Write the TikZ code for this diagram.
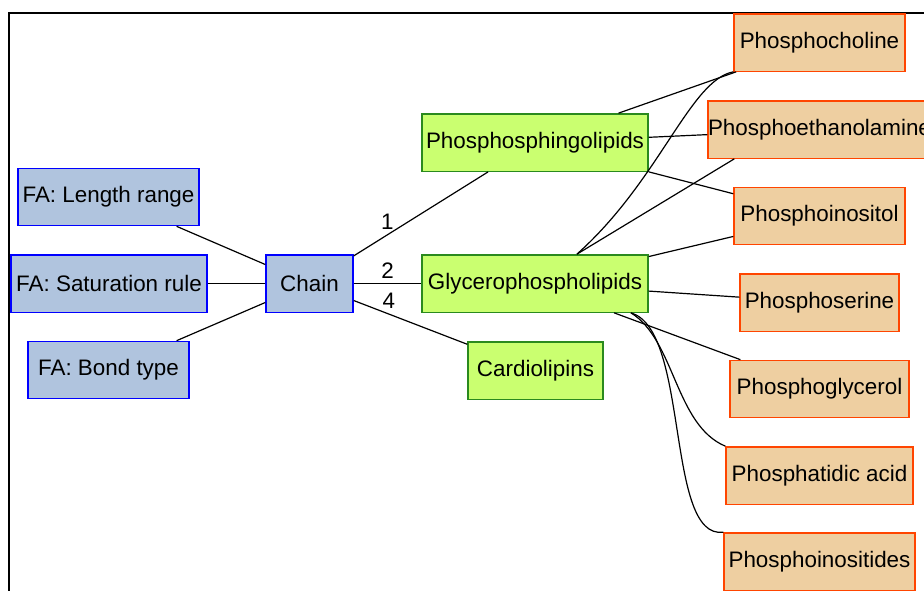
\documentclass[tikz,border=0pt]{standalone}
\usepackage{fontspec}
\setmainfont{Liberation Sans}
\usepackage{xcolor}
\definecolor{chainfill}{HTML}{B0C4DE}
\definecolor{classfill}{HTML}{CAFF70}
\definecolor{classdraw}{HTML}{2A8A1E}
\definecolor{headfill}{HTML}{EECFA1}
\definecolor{headdraw}{HTML}{FF4500}

\tikzset{
  lipidbox/.style={rectangle,line width=1pt,minimum height=43pt,inner xsep=1pt,
    font=\fontsize{16.8}{19}\selectfont},
  chainbox/.style={lipidbox,fill=chainfill,draw=blue},
  classbox/.style={lipidbox,fill=classfill,draw=classdraw},
  headbox/.style={lipidbox,fill=headfill,draw=headdraw},
  link/.style={line width=0.9pt},
  linklabel/.style={above=2pt,inner sep=1.5pt,font=\fontsize{16.8}{19}\selectfont}
}

\begin{document}
\begin{tikzpicture}[x=0.75pt,y=-0.75pt]
    \useasboundingbox (0,0) rectangle (924,590);
    \clip (0,0) rectangle (924,590);
    \draw [line width=1.5pt] (9,12.5) rectangle (1200,800);

    \node [chainbox,minimum width=135.75pt] (lenrange) at (108.5,197) {FA: Length range};
    \node [chainbox,minimum width=147pt] (satrule) at (109,283.5) {FA: Saturation rule};
    \node [chainbox,minimum width=120.75pt] (bondtype) at (108.5,370) {FA: Bond type};
    \node [chainbox,minimum width=65.25pt] (chain) at (309.5,283.5) {Chain};

    \node [classbox,minimum width=169.5pt] (sphingo) at (535,142.5) {Phosphosphingolipids};
    \node [classbox,minimum width=169.5pt] (glycero) at (535,283.5) {Glycerophospholipids};
    \node [classbox,minimum width=101.25pt] (cardio) at (535.5,370.5) {Cardiolipins};

    \node [headbox,minimum width=128.25pt] (choline) at (819.5,42.5) {Phosphocholine};
    \node [headbox,minimum width=167.25pt,inner xsep=0pt] (ethanol) at (819.5,129.5) {Phosphoethanolamine};
    \node [headbox,minimum width=128.25pt] (inositol) at (819.5,216) {Phosphoinositol};
    \node [headbox,minimum width=119.25pt] (serine) at (819.5,302.5) {Phosphoserine};
    \node [headbox,minimum width=134.25pt] (glycerol) at (819.5,389) {Phosphoglycerol};
    \node [headbox,minimum width=140.25pt] (acid) at (819.5,475.5) {Phosphatidic acid};
    \node [headbox,minimum width=143.25pt] (inositides) at (819.5,561.5) {Phosphoinositides};

    \draw [link] (lenrange) -- (chain);
    \draw [link] (satrule) -- (chain);
    \draw [link] (bondtype) -- (chain);

    \draw [link] (chain) -- node [linklabel,pos=0.25] {1} (sphingo);
    \draw [link] (chain) -- node [linklabel] {2} (glycero);
    \draw [link] (chain) -- node [linklabel,pos=0.31] {4} (cardio);

    \draw [link] (sphingo) -- (choline);
    \draw [link] (sphingo) -- (ethanol);
    \draw [link] (sphingo) -- (inositol);

    \draw [link] (glycero.35) .. controls (660,180) and (690,80) .. (choline.south west);
    \draw [link] (glycero.35) -- (ethanol.199);
    \draw [link] (glycero) -- (inositol);
    \draw [link] (glycero) -- (serine);
    \draw [link] (glycero) -- (glycerol);
    \draw [link] (glycero.343) .. controls (675,340) and (675,425) .. (acid.north west);
    \draw [link] (glycero.343) .. controls (690,330) and (665,540) .. (inositides.north west);
\end{tikzpicture}
\end{document}
